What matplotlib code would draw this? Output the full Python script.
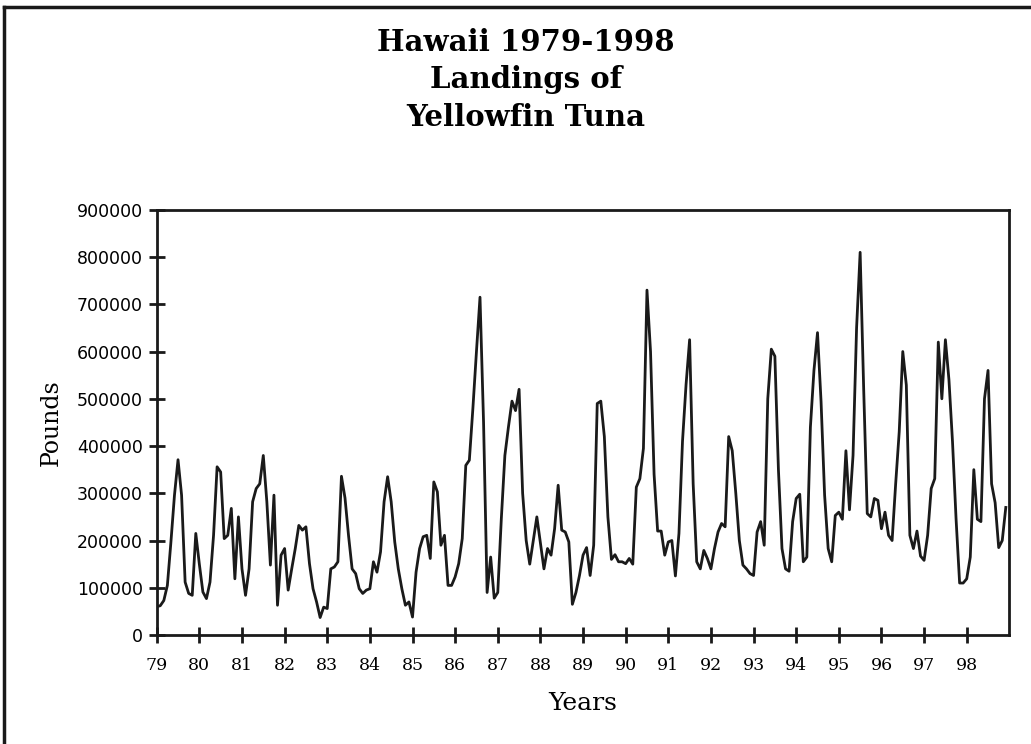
import numpy as np
import matplotlib
matplotlib.use('Agg')
import matplotlib.pyplot as plt
from matplotlib.lines import Line2D

# monthly landings, thousands of pounds
y1979 = [60, 62, 73, 105, 197, 296, 371, 296, 112, 88, 84, 215]
y1980 = [150, 91, 77, 112, 211, 356, 345, 204, 211, 268, 119, 250]
y1981 = [140, 84, 140, 282, 310, 320, 380, 282, 148, 296, 63, 169]
y1982 = [183, 95, 140, 183, 232, 222, 229, 151, 98, 70, 37, 59]
y1983 = [56, 140, 144, 155, 336, 290, 210, 140, 130, 98, 88, 95]
y1984 = [98, 155, 133, 176, 282, 335, 282, 197, 140, 98, 63, 70]
y1985 = [38, 133, 183, 208, 211, 162, 324, 303, 190, 211, 105, 105]
y1986 = [123, 151, 204, 359, 370, 480, 600, 715, 450, 90, 165, 78]
y1987 = [90, 246, 380, 440, 495, 475, 520, 300, 200, 150, 200, 250]
y1988 = [195, 140, 183, 169, 225, 317, 222, 218, 197, 65, 90, 126]
y1989 = [169, 185, 126, 190, 490, 495, 420, 250, 160, 170, 155, 155]
y1990 = [151, 162, 150, 313, 331, 395, 730, 600, 340, 220, 220, 169]
y1991 = [197, 200, 125, 215, 410, 530, 625, 320, 155, 140, 179, 162]
y1992 = [140, 183, 218, 236, 229, 420, 390, 300, 200, 148, 140, 130]
y1993 = [126, 218, 240, 190, 500, 605, 590, 350, 183, 140, 135, 240]
y1994 = [289, 298, 155, 165, 440, 560, 640, 494, 296, 183, 155, 253]
y1995 = [260, 245, 390, 265, 380, 650, 810, 520, 257, 250, 289, 285]
y1996 = [225, 260, 211, 200, 320, 430, 600, 529, 211, 183, 220, 167]
y1997 = [158, 211, 310, 331, 620, 500, 625, 540, 409, 246, 110, 110]
y1998 = [119, 165, 350, 245, 240, 500, 560, 320, 280, 185, 200, 270]

years = [y1979, y1980, y1981, y1982, y1983, y1984, y1985, y1986, y1987, y1988,
         y1989, y1990, y1991, y1992, y1993, y1994, y1995, y1996, y1997, y1998]
pounds = np.concatenate(years) * 1000
t = 79 + np.arange(len(pounds)) / 12

year_ticks = list(range(79, 99))
y_ticks = list(range(0, 900001, 100000))

fig = plt.figure(figsize=(10.31, 7.44), dpi=100)
ax = fig.add_axes([0.152, 0.1465, 0.827, 0.5715])

ax.plot(t, pounds, color='#1a1a1a', lw=2)

ax.set_xlim(79, 99)
ax.set_ylim(0, 900000)
ax.set_xticks(year_ticks)
ax.set_xticklabels([str(y) for y in year_ticks], family='DejaVu Serif', fontsize=12.5)
ax.set_yticks(y_ticks)
ax.set_yticklabels([str(v) for v in y_ticks], family='DejaVu Sans', fontsize=12.5)
ax.tick_params(direction='inout', length=12, width=2, color='#1a1a1a', pad=4)
ax.tick_params(axis='x', pad=10)
for s in ax.spines.values():
    s.set_linewidth(2)
    s.set_color('#1a1a1a')

ax.set_xlabel('Years', family='DejaVu Serif', fontsize=18, labelpad=13)
ax.set_ylabel('Pounds', family='DejaVu Serif', fontsize=17, labelpad=10)

fig.text(0.51, 0.963, 'Hawaii 1979-1998\nLandings of\nYellowfin Tuna',
         ha='center', va='top', family='DejaVu Serif', weight='bold',
         fontsize=21, linespacing=1.38)

# page frame (top and left edges visible in the scan)
fig.add_artist(Line2D([0.004, 1.0], [0.9906, 0.9906], color='#1a1a1a', lw=2.5))
fig.add_artist(Line2D([0.004, 0.004], [0.0, 0.9906], color='#1a1a1a', lw=2.5))

fig.savefig('out.png', dpi=100)
